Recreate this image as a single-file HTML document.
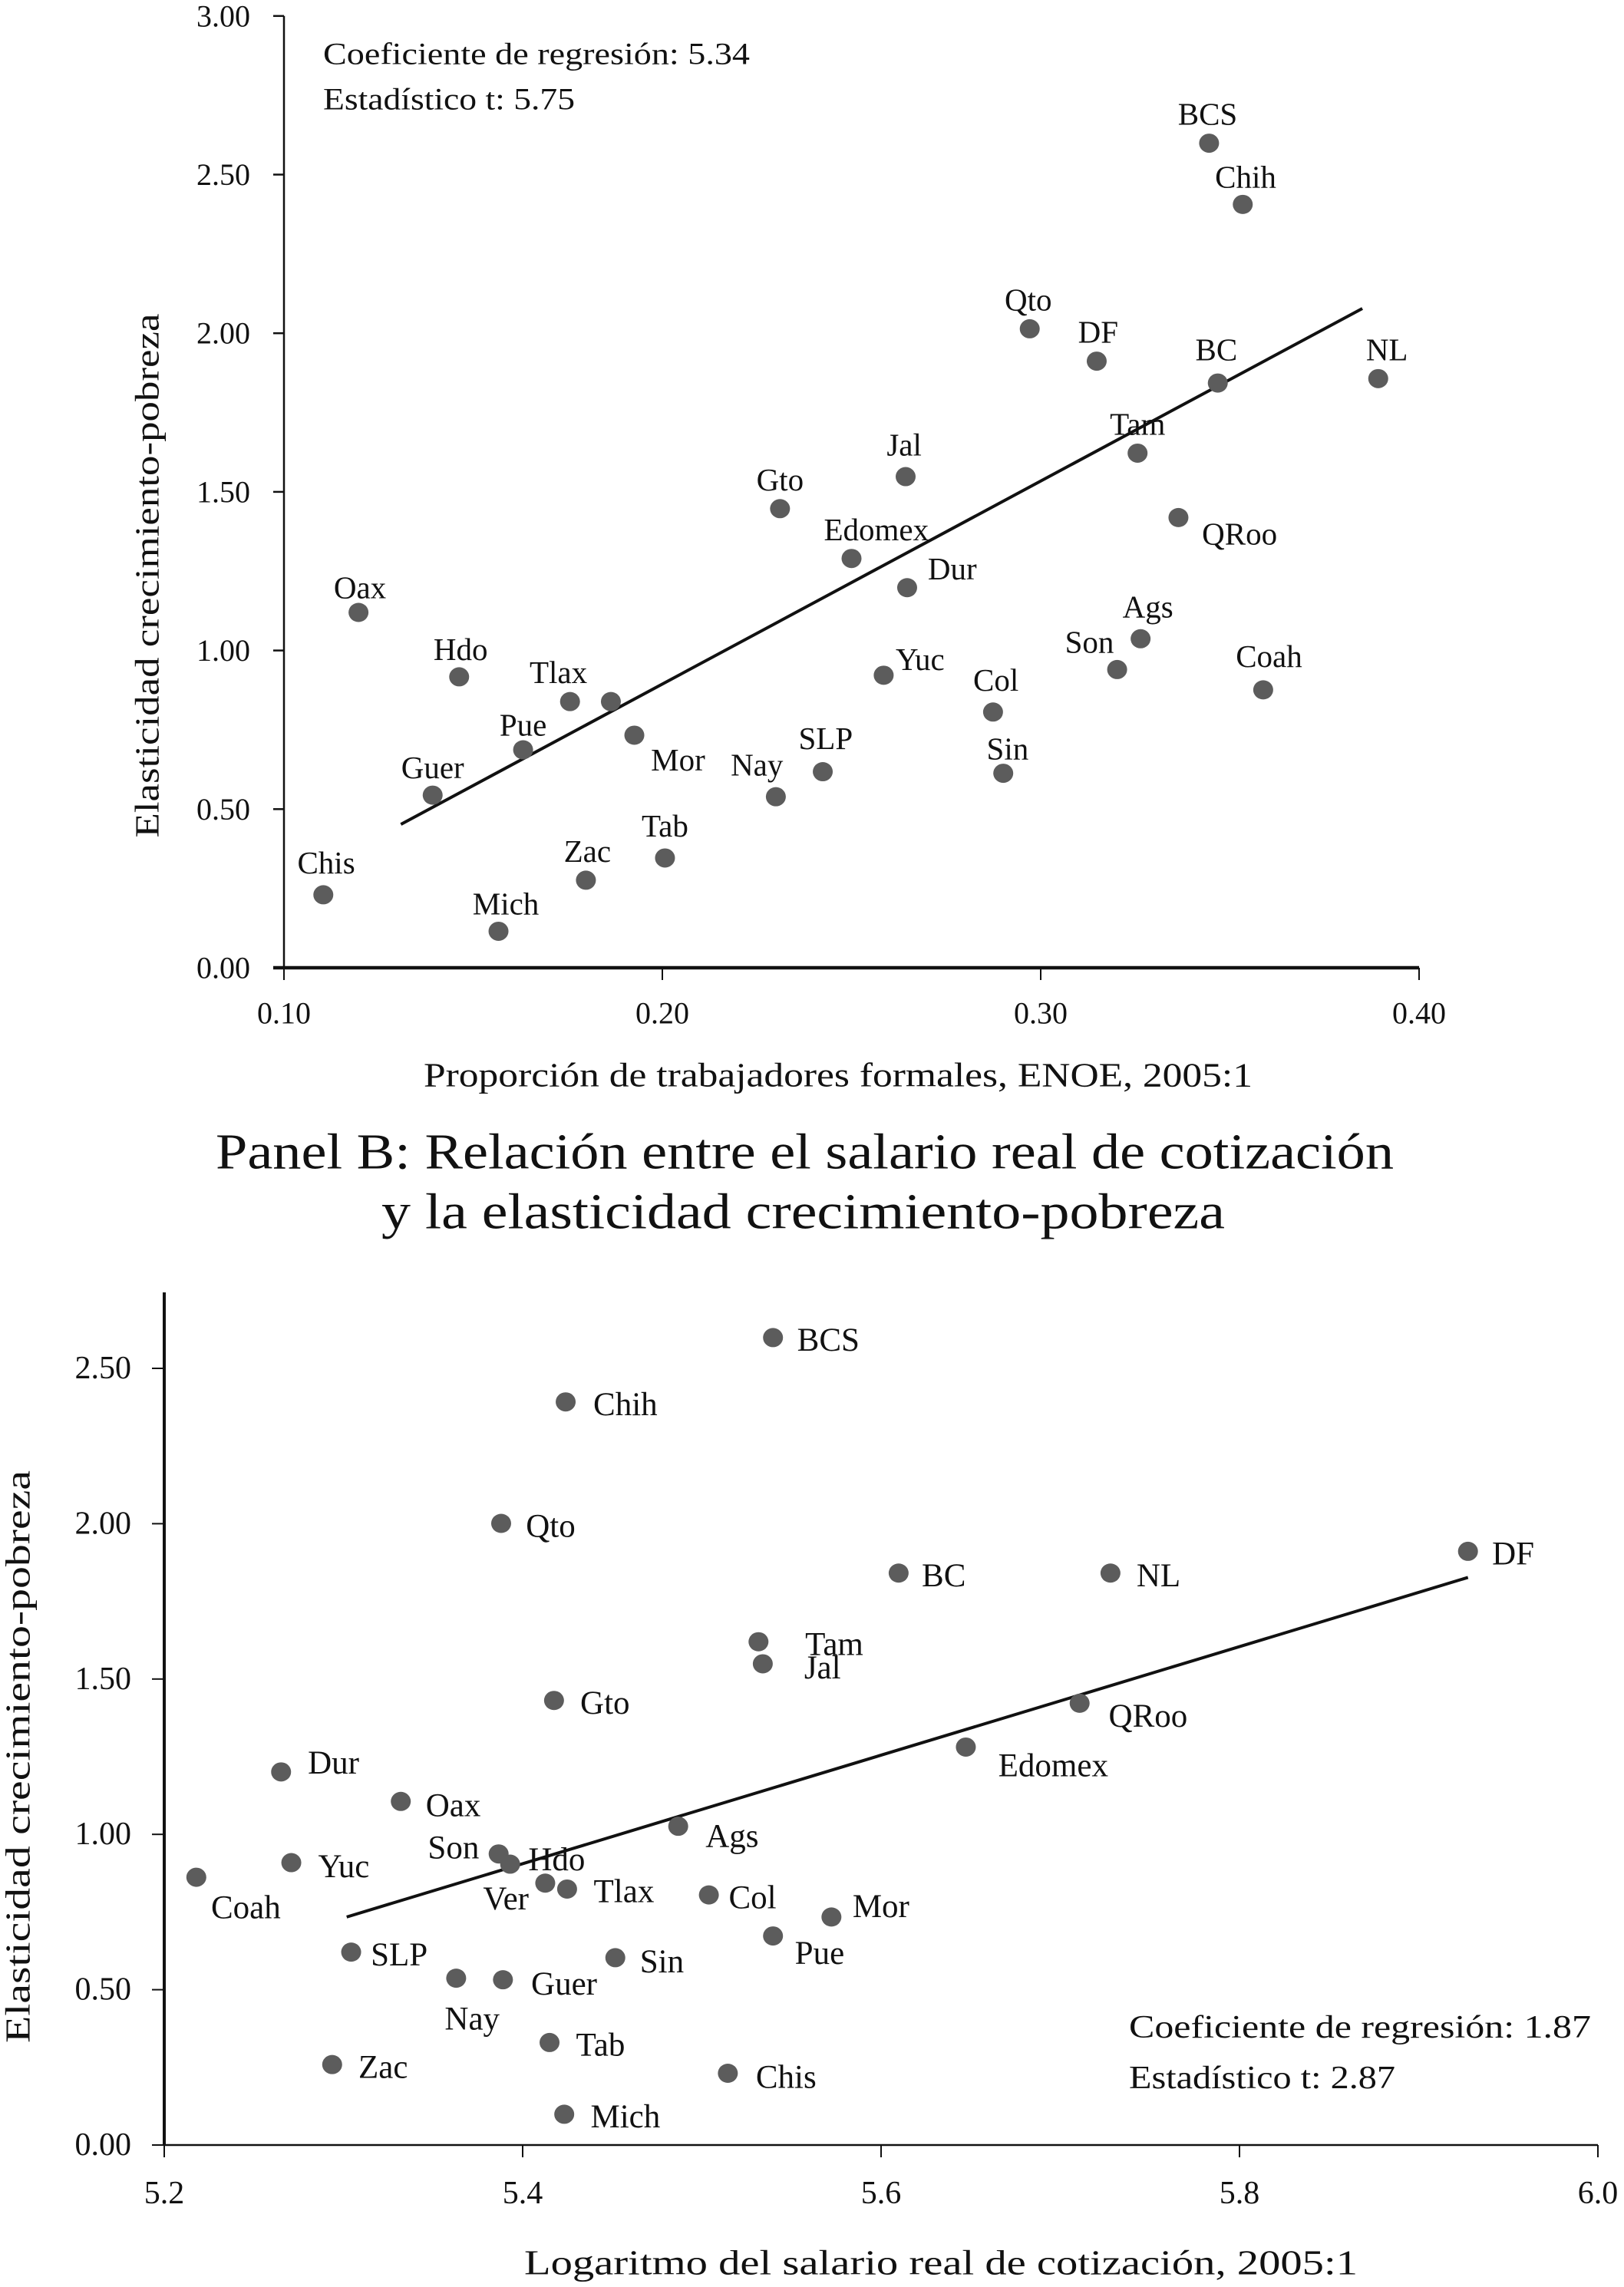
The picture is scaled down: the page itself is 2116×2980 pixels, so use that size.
<!DOCTYPE html>
<html><head><meta charset="utf-8"><style>
html,body{margin:0;padding:0;background:#fff;}
svg{display:block;}
text{font-family:"Liberation Serif",serif;fill:#111;}
</style></head><body>
<svg id="chart" width="2116" height="2980" viewBox="0 0 2116 2980">
<g id="pa"></g>
<g id="pb"></g>
</svg>
<script>
// ---- Panel A data ----
const namesA = ["Chis","Oax","Hdo","Guer","Pue","Tlax","Ver","Mor","Mich","Zac","Tab","Nay","SLP","Gto","Edomex","Jal","Dur","Yuc","Col","Sin","Qto","DF","BC","Tam","QRoo","Son","Ags","Coah","BCS","Chih","NL"];
const xA = [0.1104,0.1197,0.1463,0.1393,0.1632,0.1756,0.1864,0.1926,0.1567,0.1798,0.2007,0.2300,0.2424,0.2311,0.2500,0.2643,0.2647,0.2585,0.2874,0.2901,0.2971,0.3148,0.3468,0.3256,0.3364,0.3202,0.3264,0.3588,0.3445,0.3534,0.3892];
const yA = [0.23,1.12,0.917,0.544,0.687,0.839,0.839,0.733,0.115,0.276,0.346,0.539,0.618,1.447,1.29,1.548,1.198,0.922,0.806,0.613,2.014,1.912,1.843,1.622,1.419,0.94,1.037,0.876,2.599,2.406,1.857];
const showA = [1,1,1,1,1,1,0,1,1,1,1,1,1,1,1,1,1,1,1,1,1,1,1,1,1,1,1,1,1,1,1];
const fitA = [[0.1309,0.452],[0.385,2.078]];
const xTicksA = [0.10,0.20,0.30,0.40];
const yTicksA = [0,0.5,1,1.5,2,2.5,3];
// ---- Panel B data ----
const namesB = ["BCS","Chih","Qto","BC","NL","DF","Tam","Jal","Gto","QRoo","Edomex","Dur","Oax","Ags","Son","Hdo","Yuc","Coah","Ver","Tlax","Col","Mor","Pue","SLP","Sin","Nay","Guer","Tab","Zac","Chis","Mich"];
const xB = [5.5397,5.424,5.388,5.6098,5.728,5.9275,5.5316,5.534,5.4175,5.7108,5.6473,5.2652,5.332,5.4868,5.3866,5.393,5.2709,5.2179,5.4126,5.4248,5.5039,5.5723,5.5397,5.3043,5.4517,5.3629,5.389,5.415,5.2937,5.5145,5.4232];
const yB = [2.599,2.392,2.001,1.841,1.841,1.911,1.62,1.549,1.431,1.422,1.281,1.201,1.106,1.026,0.937,0.904,0.909,0.862,0.843,0.824,0.805,0.734,0.673,0.621,0.603,0.537,0.532,0.330,0.259,0.231,0.099];
const fitB = [[5.3018,0.734],[5.9275,1.827]];
const xTicksB = [5.2,5.4,5.6,5.8,6.0];
const yTicksB = [0,0.5,1,1.5,2,2.5];

// label offsets (layout, not data)
const S = 1.898;
const offA = {Chis:[2,-22],Oax:[1,-17],Hdo:[1,-19],Guer:[0,-19],Pue:[0,-17],Tlax:[-8,-20],Ver:[0,0],Mor:[30,17],Mich:[5,-19],Zac:[1,-20],Tab:[0,-22],Nay:[-13,-22],SLP:[2,-23],Gto:[0,-20],Edomex:[17,-20],Jal:[-1,-22],Dur:[31,-13],Yuc:[25,-11],Col:[2,-22],Sin:[3,-17],Qto:[-1,-20],DF:[1,-20],BC:[-1,-23],Tam:[0,-20],QRoo:[42,11],Son:[-19,-19],Ags:[5,-22],Coah:[4,-23],BCS:[-1,-20],Chih:[2,-19],NL:[6,-20]};
const offB = {BCS:[38,2],Chih:[41,2],Qto:[34,2],BC:[31,2],NL:[33,2],DF:[31,2],Tam:[52,2],Jal:[41,3],Gto:[35,2],QRoo:[47,9],Edomex:[60,13],Dur:[36,-6],Oax:[36,3],Ags:[37,7],Son:[-31,-4],Hdo:[32,-3],Yuc:[36,3],Coah:[34,21],Ver:[-27,11],Tlax:[39,2],Col:[30,2],Mor:[34,-7],Pue:[32,12],SLP:[33,2],Sin:[32,3],Nay:[11,28],Guer:[42,3],Tab:[35,2],Zac:[35,2],Chis:[40,3],Mich:[42,2]};

const NS="http://www.w3.org/2000/svg";
function mk(parent,tag,attrs,txt){const e=document.createElementNS(NS,tag);for(const k in attrs)e.setAttribute(k,attrs[k]);if(txt!==undefined)e.textContent=txt;parent.appendChild(e);return e;}

const axA = v => 370 + (v-0.10)*4930;
const ayA = v => 1261 - v*413.4;
const axB = v => 214 + (v-5.2)*2335;
const ayB = v => 2795 - v*404.8;

const pa=document.getElementById('pa');
const pb=document.getElementById('pb');

let e;
e=mk(pa,'line',{x1:370,y1:ayA(3),x2:370,y2:1261,stroke:'#111','stroke-width':2.5});


e=mk(pa,'line',{x1:356,y1:1261,x2:1849,y2:1261,stroke:'#111','stroke-width':4.5});


yTicksA.forEach(v=>{
  mk(pa,'line',{x1:356,y1:ayA(v),x2:370,y2:ayA(v),stroke:'#111','stroke-width':2.5});
  e=mk(pa,'text',{x:326,y:ayA(v),'text-anchor':'end','dominant-baseline':'central','font-size':40},v.toFixed(2));
  
  
});
xTicksA.forEach(v=>{
  mk(pa,'line',{x1:axA(v),y1:1261,x2:axA(v),y2:1277,stroke:'#111','stroke-width':2});
  e=mk(pa,'text',{x:axA(v),y:1320,'text-anchor':'middle','dominant-baseline':'central','font-size':40},v.toFixed(2));
  
  
});
e=mk(pa,'line',{x1:axA(fitA[0][0]),y1:ayA(fitA[0][1]),x2:axA(fitA[1][0]),y2:ayA(fitA[1][1]),stroke:'#111','stroke-width':4});


namesA.forEach((n,i)=>{
  const cx=axA(xA[i]), cy=ayA(yA[i]);
  e=mk(pa,'ellipse',{cx:cx,cy:cy,rx:13,ry:12.5,fill:'#5c5c5c'});
  
  
  if(showA[i]){
    const o=offA[n];
    e=mk(pa,'text',{x:cx+o[0]*S,y:cy+o[1]*S,'text-anchor':'middle','dominant-baseline':'central','font-size':41},n);
    
    
  }
});

e=mk(pb,'line',{x1:214,y1:1684,x2:214,y2:2795,stroke:'#111','stroke-width':4});


e=mk(pb,'line',{x1:214,y1:2795,x2:2082,y2:2795,stroke:'#111','stroke-width':2.5});


yTicksB.forEach(v=>{
  mk(pb,'line',{x1:198,y1:ayB(v),x2:214,y2:ayB(v),stroke:'#111','stroke-width':2});
  e=mk(pb,'text',{x:171,y:ayB(v),'text-anchor':'end','dominant-baseline':'central','font-size':42},v.toFixed(2));
  
  
});
xTicksB.forEach(v=>{
  mk(pb,'line',{x1:axB(v),y1:2795,x2:axB(v),y2:2811,stroke:'#111','stroke-width':2});
  e=mk(pb,'text',{x:axB(v),y:2858,'text-anchor':'middle','dominant-baseline':'central','font-size':42},v.toFixed(1));
  
  
});
e=mk(pb,'line',{x1:axB(fitB[0][0]),y1:ayB(fitB[0][1]),x2:axB(fitB[1][0]),y2:ayB(fitB[1][1]),stroke:'#111','stroke-width':4});


namesB.forEach((n,i)=>{
  const cx=axB(xB[i]), cy=ayB(yB[i]);
  e=mk(pb,'ellipse',{cx:cx,cy:cy,rx:13,ry:12.5,fill:'#5c5c5c'});
  
  
  const o=offB[n];
  e=mk(pb,'text',{x:cx+o[0]*S,y:cy+o[1]*S,'text-anchor':'middle','dominant-baseline':'central','font-size':43},n);
  
  
});
</script>
<div style="position:absolute;left:0;top:0;width:2116px;height:2980px;pointer-events:none">
<svg width="2116" height="2980" viewBox="0 0 2116 2980">
<text x="421" y="70" font-size="40" dominant-baseline="central" textLength="556" lengthAdjust="spacingAndGlyphs">Coeficiente de regresión: 5.34</text>
<text x="421" y="129" font-size="40" dominant-baseline="central" textLength="328" lengthAdjust="spacingAndGlyphs">Estadístico t: 5.75</text>
<text transform="translate(192,750) rotate(-90)" text-anchor="middle" dominant-baseline="central" font-size="44" textLength="683" lengthAdjust="spacingAndGlyphs">Elasticidad crecimiento-pobreza</text>
<text x="552" y="1401" dominant-baseline="central" font-size="44" textLength="1080" lengthAdjust="spacingAndGlyphs">Proporción de trabajadores formales, ENOE, 2005:1</text>
<text x="281" y="1501" dominant-baseline="central" font-size="66" textLength="1535" lengthAdjust="spacingAndGlyphs">Panel B: Relación entre el salario real de cotización</text>
<text x="497" y="1579" dominant-baseline="central" font-size="66" textLength="1099" lengthAdjust="spacingAndGlyphs">y la elasticidad crecimiento-pobreza</text>
<text x="1471" y="2642" dominant-baseline="central" font-size="42" textLength="602" lengthAdjust="spacingAndGlyphs">Coeficiente de regresión: 1.87</text>
<text x="1471" y="2708" dominant-baseline="central" font-size="42" textLength="347" lengthAdjust="spacingAndGlyphs">Estadístico t: 2.87</text>
<text transform="translate(23,2289) rotate(-90)" text-anchor="middle" dominant-baseline="central" font-size="46" textLength="746" lengthAdjust="spacingAndGlyphs">Elasticidad crecimiento-pobreza</text>
<text x="683" y="2948" dominant-baseline="central" font-size="46" textLength="1086" lengthAdjust="spacingAndGlyphs">Logaritmo del salario real de cotización, 2005:1</text>
</svg></div>
</body></html>
